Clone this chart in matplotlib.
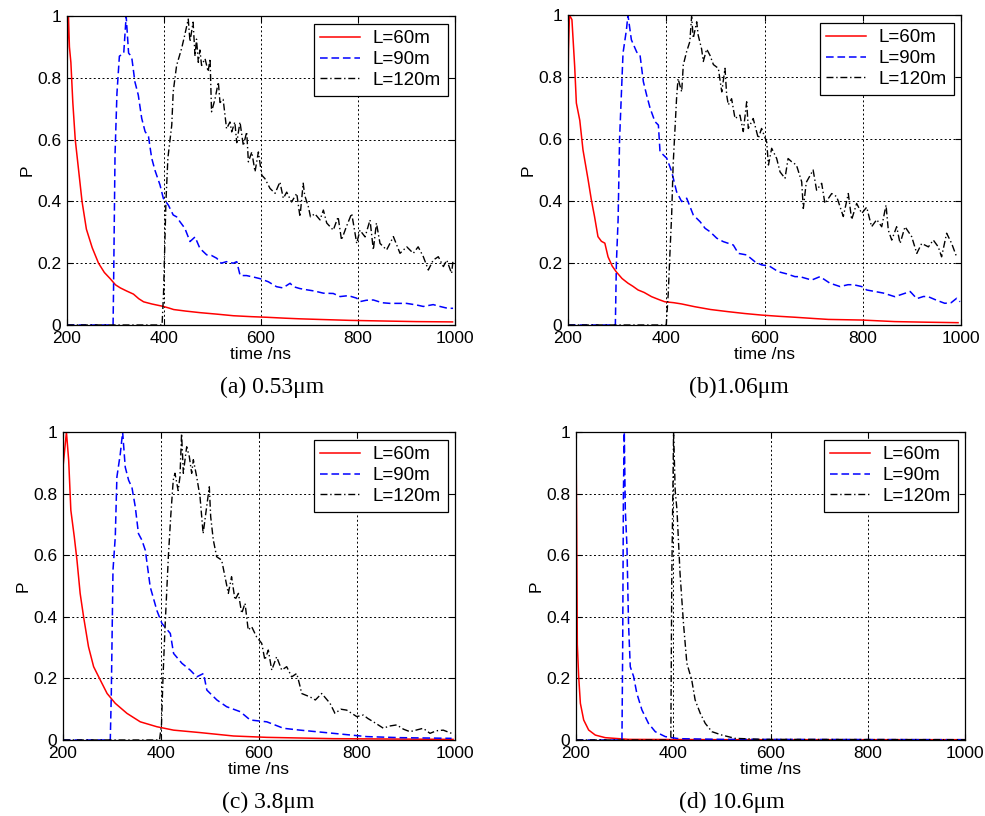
import numpy as np
import matplotlib.pyplot as plt

plt.rcParams['font.family'] = ['Liberation Sans', 'DejaVu Sans']

# ---------------------------------------------------------------------------
# data: (time ns, P) pairs per curve
# ---------------------------------------------------------------------------
# (a) 0.53 um
a_60 = [(200, 0.80), (201, 0.92), (203, 1.00), (205, 0.90), (208, 0.85), (212, 0.72),
        (217, 0.60), (224, 0.50), (231, 0.40), (240, 0.31), (252, 0.25), (265, 0.20),
        (277, 0.17), (289, 0.15), (300, 0.13), (310, 0.12), (323, 0.11), (337, 0.10),
        (348, 0.085), (358, 0.075), (375, 0.068), (399, 0.06), (410, 0.055), (420, 0.05),
        (445, 0.045), (474, 0.04), (510, 0.035), (543, 0.03), (580, 0.027), (612, 0.025),
        (650, 0.022), (680, 0.02), (720, 0.018), (783, 0.015), (850, 0.013), (920, 0.011),
        (995, 0.01)]
a_90 = [(200, 0), (295, 0), (296, 0.12), (299, 0.55), (303, 0.75), (308, 0.87), (317, 0.88),
        (322, 1.0), (327, 0.88), (330, 0.874), (334, 0.86), (340, 0.787), (347, 0.744),
        (354, 0.669), (361, 0.626), (368, 0.61), (374.6, 0.54), (381.5, 0.5), (391.8, 0.453),
        (398.6, 0.41), (409, 0.388), (419, 0.356), (426, 0.35), (433, 0.334), (443, 0.313),
        (453.6, 0.27), (464, 0.285), (474, 0.248), (488, 0.227), (498, 0.225), (508.7, 0.216),
        (518, 0.2), (529, 0.205), (543, 0.20), (550, 0.205), (557, 0.16), (570, 0.16),
        (585, 0.155), (598, 0.15), (615, 0.14), (632, 0.124), (645, 0.12), (660, 0.135),
        (667, 0.124), (680, 0.118), (694, 0.114), (710, 0.11), (728.6, 0.103), (749, 0.102),
        (763, 0.092), (780, 0.095), (797, 0.087), (805, 0.076), (817, 0.08), (831.6, 0.081),
        (850, 0.072), (866, 0.07), (886, 0.07), (900, 0.07), (920, 0.065), (934.7, 0.06),
        (955, 0.066), (969, 0.06), (985, 0.054), (996, 0.054)]
a_120 = [(200, 0), (396, 0), (399, 0.10), (404, 0.40), (408, 0.54), (416, 0.647), (419, 0.755),
         (426, 0.84), (436.5, 0.896), (443, 0.94), (450, 0.99), (453.6, 0.917), (460, 0.98),
         (464, 0.87), (467, 0.925), (470.8, 0.85), (474, 0.89), (477.5, 0.84), (484.6, 0.862),
         (491, 0.82), (495, 0.862), (498, 0.69), (505, 0.73), (512, 0.786), (515.5, 0.72),
         (522, 0.73), (529, 0.635), (536, 0.657), (539.6, 0.625), (546, 0.657), (550, 0.59),
         (556.7, 0.657), (563.6, 0.58), (570.5, 0.625), (574, 0.528), (581, 0.56),
         (587.7, 0.496), (594.6, 0.56), (601.5, 0.485), (608, 0.474), (618.6, 0.442),
         (629, 0.426), (639, 0.463), (646, 0.41), (653, 0.43), (663, 0.398), (673.7, 0.426),
         (680.4, 0.35), (687, 0.459), (690, 0.42), (697.6, 0.383), (702, 0.35), (711, 0.36),
         (721.7, 0.34), (728.6, 0.372), (735.5, 0.33), (749, 0.307), (759, 0.35), (766, 0.275),
         (776, 0.318), (787, 0.361), (797.4, 0.264), (804, 0.307), (814.6, 0.285),
         (824.8, 0.34), (831.6, 0.243), (838, 0.33), (845.4, 0.264), (859, 0.243),
         (873, 0.286), (886.6, 0.232), (900.5, 0.253), (914, 0.232), (924, 0.253),
         (934.7, 0.221), (945, 0.178), (955, 0.21), (965.6, 0.221), (976, 0.189), (983, 0.21),
         (993, 0.167), (996, 0.21)]

# (b) 1.06 um
b_60 = [(200, 0.77), (201, 0.89), (203, 1.0), (208, 0.985), (213.6, 0.834), (217, 0.716),
        (224, 0.66), (230.5, 0.565), (241, 0.468), (247.5, 0.404), (254, 0.35), (261, 0.285),
        (268, 0.27), (275, 0.264), (281.5, 0.22), (290, 0.19), (298, 0.172), (310, 0.15),
        (322, 0.135), (332, 0.125), (342.6, 0.113), (355, 0.105), (370, 0.0915), (385, 0.082),
        (397, 0.075), (415, 0.072), (431, 0.068), (458, 0.059), (490, 0.05), (526, 0.043),
        (560, 0.037), (594, 0.032), (630, 0.028), (662, 0.025), (700, 0.021), (730, 0.018),
        (798, 0.016), (865, 0.011), (930, 0.009), (994, 0.0075)]
b_90 = [(200, 0), (296.4, 0), (298.5, 0.2), (302, 0.34), (305, 0.6), (312, 0.877), (319, 0.953),
        (322, 1.0), (329, 0.92), (340, 0.88), (346.6, 0.871), (353.4, 0.785), (360, 0.742),
        (367, 0.7), (377, 0.656), (384, 0.645), (387.3, 0.559), (401, 0.538), (411, 0.495),
        (421, 0.43), (431.4, 0.398), (441.6, 0.409), (455, 0.355), (469, 0.333), (479, 0.312),
        (489, 0.301), (502.8, 0.28), (516, 0.269), (536.5, 0.258), (546.7, 0.231),
        (563.7, 0.226), (580.6, 0.204), (594, 0.194), (610, 0.19), (628, 0.172), (645, 0.165),
        (662, 0.156), (672, 0.156), (696, 0.145), (713, 0.156), (733, 0.135), (753.8, 0.124),
        (770, 0.13), (781, 0.13), (798, 0.124), (808, 0.113), (825, 0.108), (842, 0.103),
        (865, 0.0915), (876, 0.097), (896.6, 0.108), (910, 0.085), (923.7, 0.092),
        (933, 0.0915), (950, 0.08), (967, 0.07), (980, 0.072), (991, 0.086), (998, 0.075)]
b_120 = [(200, 0), (400, 0), (404, 0.1), (408, 0.25), (411, 0.355), (414, 0.516), (421, 0.731),
         (424, 0.795), (431.4, 0.752), (434.7, 0.839), (441.5, 0.882), (448, 0.914),
         (451.6, 0.995), (455, 0.925), (462, 0.978), (465, 0.935), (472, 0.89), (475.4, 0.85),
         (482.3, 0.89), (489, 0.87), (496, 0.84), (506, 0.828), (513, 0.752), (519.6, 0.828),
         (523, 0.742), (526.3, 0.71), (533, 0.73), (540, 0.666), (550, 0.677), (556.8, 0.624),
         (563.7, 0.72), (567, 0.634), (577, 0.666), (587.4, 0.602), (594, 0.634),
         (604.5, 0.59), (608, 0.516), (614.6, 0.57), (624.8, 0.537), (631.6, 0.494),
         (641.7, 0.473), (648, 0.537), (655, 0.527), (665, 0.516), (675.7, 0.462),
         (679, 0.376), (685, 0.46), (699, 0.5), (706, 0.435), (716.4, 0.457), (723, 0.392),
         (736.8, 0.424), (747, 0.414), (760.4, 0.35), (770.6, 0.424), (777.4, 0.34),
         (787.6, 0.392), (798, 0.36), (808, 0.38), (818, 0.317), (828.5, 0.34), (838.6, 0.317),
         (847.4, 0.387), (852, 0.306), (859, 0.274), (869, 0.317), (876, 0.263), (886, 0.317),
         (899.6, 0.285), (910, 0.231), (920, 0.263), (933.7, 0.252), (943.6, 0.274),
         (953.7, 0.252), (960.5, 0.22), (970.8, 0.296), (981, 0.263), (991, 0.22)]

# (c) 3.8 um
c_60 = [(200, 0.886), (202.7, 0.93), (207, 1.0), (211.6, 0.908), (216, 0.746), (223, 0.66),
        (228.5, 0.584), (235, 0.476), (242, 0.4), (252, 0.303), (262.5, 0.238), (276, 0.195),
        (290, 0.151), (306.7, 0.119), (330.5, 0.0865), (357.7, 0.059), (391.7, 0.043),
        (425.7, 0.032), (480, 0.024), (548, 0.013), (616, 0.0086), (752, 0.0043), (996, 0.002)]
c_90 = [(200, 0), (296.5, 0), (298.6, 0.151), (302, 0.551), (306.7, 0.66), (310, 0.854),
        (317, 0.93), (321.7, 1.0), (327, 0.886), (334, 0.843), (340.7, 0.82), (347.5, 0.757),
        (354, 0.67), (361, 0.649), (368, 0.616), (378, 0.497), (391.7, 0.42), (402, 0.378),
        (419, 0.346), (425.7, 0.281), (442.7, 0.249), (459.6, 0.227), (473, 0.205),
        (486.8, 0.216), (493.6, 0.162), (514, 0.13), (534, 0.108), (561.6, 0.092), (582, 0.065),
        (616, 0.059), (650, 0.038), (684, 0.032), (752, 0.0216), (820, 0.011), (888, 0.0076),
        (993, 0.0054)]
c_120 = [(200, 0), (397, 0), (401, 0.05), (404, 0.2), (408, 0.357), (415, 0.595), (419.8, 0.725),
         (425, 0.844), (428.5, 0.866), (435, 0.81), (438.7, 0.855), (442, 0.995), (445.6, 0.866),
         (449, 0.91), (452.4, 0.952), (457.8, 0.92), (462.6, 0.866), (466, 0.91),
         (472.8, 0.855), (479.6, 0.79), (486, 0.67), (493, 0.755), (498.6, 0.822),
         (501.4, 0.725), (506.7, 0.65), (513.6, 0.595), (523.8, 0.584), (530.6, 0.53),
         (537.4, 0.476), (544, 0.53), (551, 0.455), (558, 0.476), (564.7, 0.411),
         (571.5, 0.444), (578, 0.357), (585, 0.368), (595, 0.335), (605.5, 0.314), (612, 0.26),
         (619, 0.292), (626, 0.227), (636, 0.27), (646.4, 0.227), (656.5, 0.238),
         (666.7, 0.205), (677, 0.216), (684, 0.173), (687, 0.151), (704, 0.14), (715, 0.13),
         (728, 0.151), (745, 0.119), (755, 0.0865), (767, 0.1), (779, 0.097), (799.5, 0.076),
         (813, 0.081), (822, 0.07), (833.5, 0.059), (854, 0.038), (865, 0.045), (881, 0.049),
         (895, 0.035), (908, 0.027), (935, 0.038), (949, 0.0216), (962, 0.03), (976, 0.032),
         (993, 0.0216)]

# (d) 10.6 um
d_60 = [(200, 1.0), (201.4, 0.69), (202.7, 0.31), (205.5, 0.206), (209, 0.119), (215.8, 0.065),
        (226, 0.0325), (239.7, 0.016), (260, 0.0076), (308, 0.002), (500, 0.001), (1000, 0.001)]
d_90 = [(200, 0), (294.5, 0), (296, 0.3), (297.5, 0.8), (299.3, 1.0), (301.4, 0.748),
        (304.8, 0.628), (308, 0.379), (311.6, 0.238), (318.5, 0.206), (325, 0.152),
        (335.6, 0.0975), (349, 0.054), (363, 0.027), (383.6, 0.011), (411, 0.0043),
        (500, 0.002), (1000, 0.001)]
d_120 = [(200, 0), (395, 0), (397, 0.53), (400.7, 1.0), (404, 0.81), (407.6, 0.748), (414, 0.54),
         (421, 0.379), (428, 0.249), (438, 0.195), (445, 0.13), (455.5, 0.0867), (465.8, 0.054),
         (479.5, 0.027), (500, 0.016), (527, 0.0054), (582, 0.002), (1000, 0.001)]

labels = ['L=60m', 'L=90m', 'L=120m']
captions = ['(a) 0.53\u03bcm', '(b)1.06\u03bcm', '(c) 3.8\u03bcm', '(d) 10.6\u03bcm']
panels = [(a_60, a_90, a_120), (b_60, b_90, b_120), (c_60, c_90, c_120), (d_60, d_90, d_120)]

# ---------------------------------------------------------------------------
# layout in pixels (left, top, right, bottom) and caption centres
# ---------------------------------------------------------------------------
W, H = 985, 816
boxes = [(67, 16, 455, 325), (568, 15, 961, 325), (63, 432, 455, 740), (576, 432, 965, 740)]
cap_pos = [(272, 387), (739, 387), (268, 802), (732, 802)]

styles = [dict(color='#ff0000', linestyle='-', lw=1.1),
          dict(color='#0000ff', linestyle=(0, (5, 2.5)), lw=1.1),
          dict(color='black', linestyle=(0, (5, 2, 1, 2)), lw=1.0)]

fig = plt.figure(figsize=(W / 100, H / 100), dpi=100)

for box, curves, cap, cpos in zip(boxes, panels, captions, cap_pos):
    l, t, r, b = box
    ax = fig.add_axes([l / W, 1 - b / H, (r - l) / W, (b - t) / H])
    for curve, lab, st in zip(curves, labels, styles):
        tt, pp = np.array(curve, dtype=float).T
        ax.plot(tt, pp, label=lab, **st)

    ax.set_xlim(200, 1000)
    ax.set_ylim(0, 1)
    ax.set_xticks([200, 400, 600, 800, 1000])
    ax.set_yticks([0, 0.2, 0.4, 0.6, 0.8, 1])
    ax.set_yticklabels(['0', '0.2', '0.4', '0.6', '0.8', '1'])
    ax.tick_params(direction='in', top=True, right=True, labelsize=12.5,
                   length=4, width=0.8, pad=4)
    ax.grid(True, color='black', linestyle=(0, (2, 2.5)), lw=0.7)
    for sp in ax.spines.values():
        sp.set_linewidth(0.9)
    ax.set_xlabel('time /ns', fontsize=12.5, labelpad=1)
    ax.set_ylabel('P', fontsize=12.5, labelpad=2)

    leg = ax.legend(loc='upper right', fontsize=13.5, fancybox=False, framealpha=1,
                    edgecolor='black', borderaxespad=0.4, handlelength=2.1,
                    handletextpad=0.7, labelspacing=0.2, borderpad=0.35)
    leg.get_frame().set_linewidth(0.9)

    fig.text(cpos[0] / W, 1 - cpos[1] / H, cap, ha='center', va='center',
             fontsize=17, family=['Liberation Serif', 'DejaVu Serif'])

fig.savefig('out.png', dpi=100)
